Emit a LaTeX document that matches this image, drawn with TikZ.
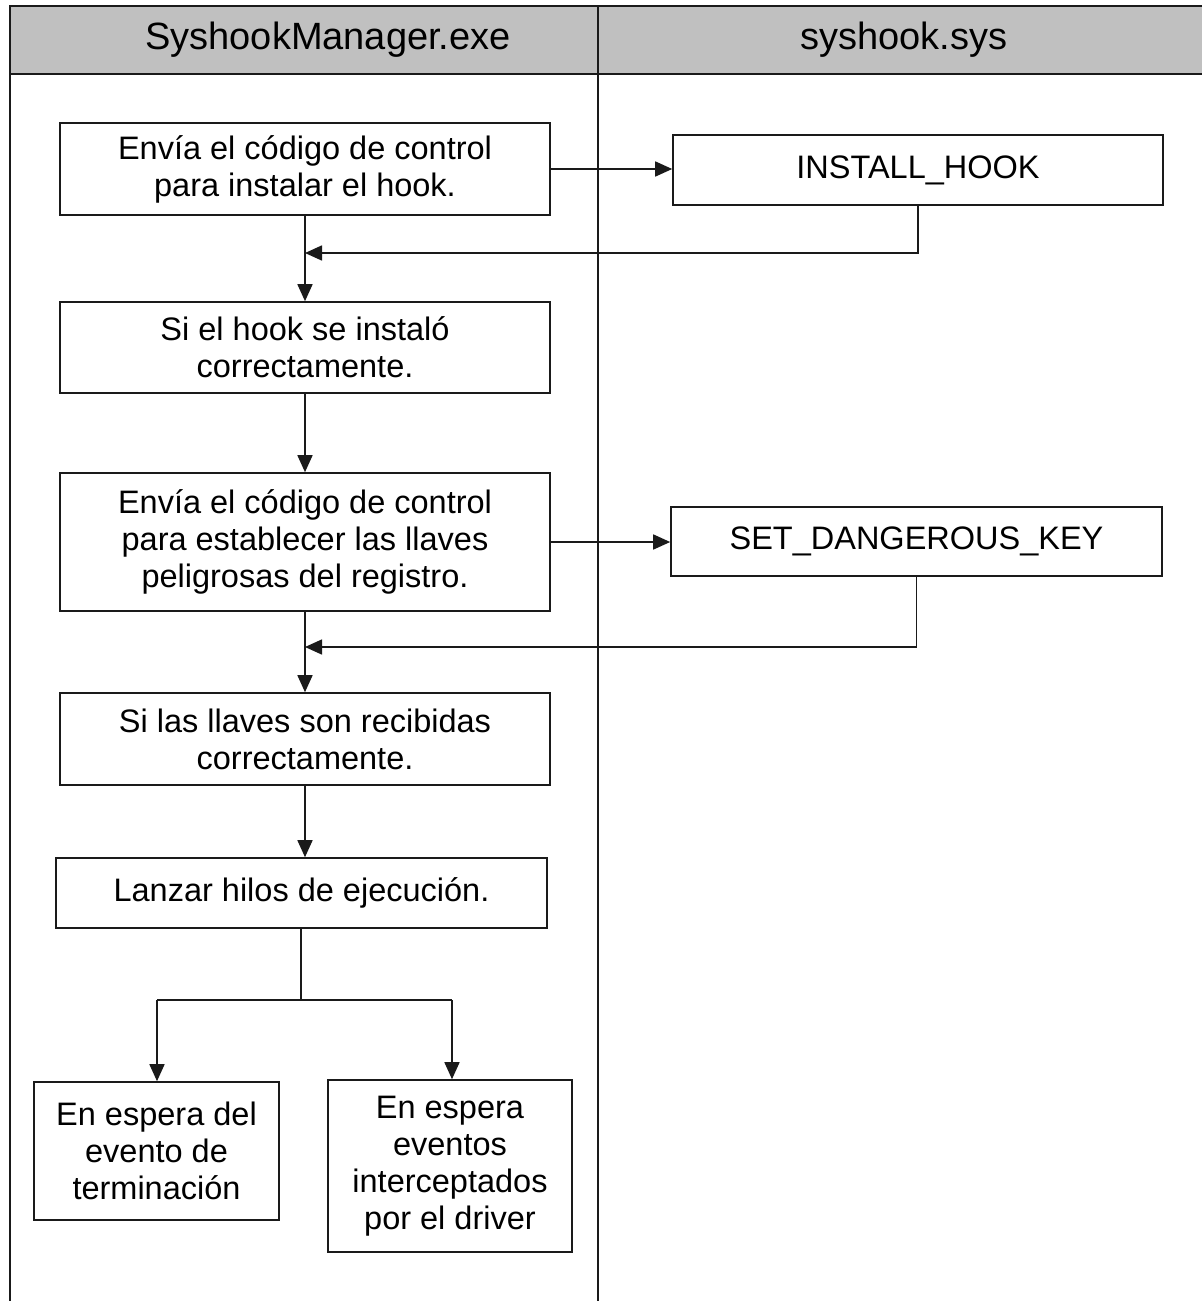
\documentclass[tikz,border=0pt]{standalone}
\usepackage{fontspec}
\setmainfont{Liberation Sans}
\usetikzlibrary{arrows.meta}
\definecolor{headgray}{HTML}{C0C0C0}
\definecolor{ink}{HTML}{1A1A1A}
\begin{document}
\begin{tikzpicture}[x=1pt,y=-1pt,
  box/.style={draw=ink,line width=1.6pt,inner sep=0pt,align=center,
    font=\fontsize{32.5}{37}\selectfont},
  flow/.style={draw=ink,line width=1.6pt,-{Triangle[length=17pt,width=15pt]}},
  wire/.style={draw=ink,line width=1.6pt},
  frame/.style={draw=ink,line width=2.4pt},
  head/.style={font=\fontsize{38}{40}\selectfont}]
\useasboundingbox (0,0) rectangle (1202,1301);
% swimlane frame and header band
\fill[headgray] (10,6) rectangle (1202,74);
\draw[frame] (1202,6) -- (10,6) -- (10,1301);
\draw[frame] (10,74) -- (1202,74);
\draw[frame] (598,6) -- (598,1301);
\node[head] (hA) at (328,40) {SyshookManager.exe};
\node[head] (hB) at (904,40) {syshook.sys};
% user-mode steps
\node[box,minimum width=490pt,minimum height=92pt] (b1) at (305,169) {Envía el código de control\\para instalar el hook.};
\node[box,minimum width=490pt,minimum height=91pt] (b2) at (305,347.5) {Si el hook se instaló\\correctamente.};
\node[box,minimum width=490pt,minimum height=138pt] (b3) at (305,542) {Envía el código de control\\para establecer las llaves\\peligrosas del registro.};
\node[box,minimum width=490pt,minimum height=92pt] (b4) at (305,739) {Si las llaves son recibidas\\correctamente.};
\node[box,minimum width=491pt,minimum height=70pt] (b5) at (301.5,893) {Lanzar hilos de ejecución.};
\node[box,minimum width=245pt,minimum height=138pt] (b6) at (156.5,1151) {En espera del\\evento de\\terminación};
\node[box,minimum width=244pt,minimum height=172pt] (b7) at (450,1166) {En espera\\eventos\\interceptados\\por el driver};
% driver-side codes
\node[box,minimum width=490pt,minimum height=70pt] (ih) at (918,170) {INSTALL\_HOOK};
\node[box,minimum width=491pt,minimum height=69pt] (sk) at (916.5,541.5) {SET\_DANGEROUS\_KEY};
% junction points
\coordinate (j1) at (305,253);
\coordinate (j2) at (305,647);
\coordinate (sp) at (301,1000);
\coordinate (l6) at (157,1000);
\coordinate (l7) at (452,1000);
% connectors
\draw[flow] (b1.east) -- (b1.east -| ih.west);
\draw[flow] (ih.south) |- (j1);
\draw[flow] (b1.south) -- (b2.north);
\draw[flow] (b2.south) -- (b3.north);
\draw[flow] (b3.east) -- (b3.east -| sk.west);
\draw[flow] (sk.south) |- (j2);
\draw[flow] (b3.south) -- (b4.north);
\draw[flow] (b4.south) -- (b4.south |- b5.north);
\draw[wire] (b5.south -| sp) -- (sp);
\draw[wire] (l6) -- (l7);
\draw[flow] (l6) -- (l6 |- b6.north);
\draw[flow] (l7) -- (l7 |- b7.north);
\end{tikzpicture}
\end{document}
